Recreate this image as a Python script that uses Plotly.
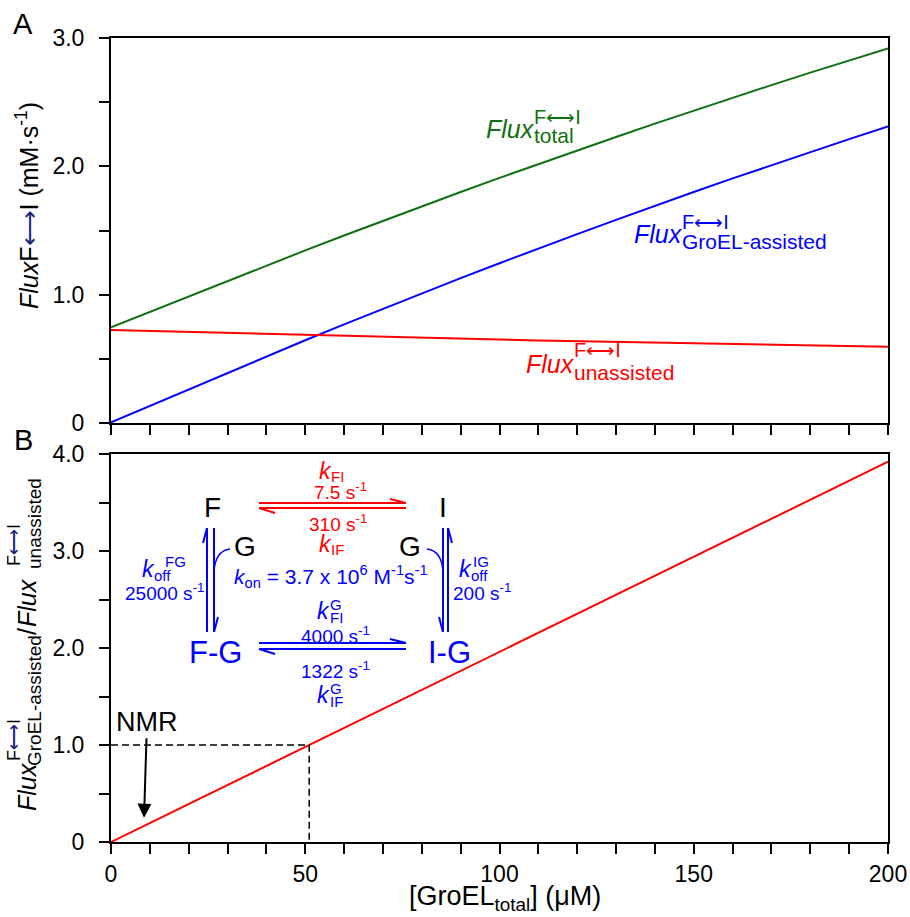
import plotly.graph_objects as go
import numpy as np

# ---------------- data ----------------
groel_uM = [0, 10, 20, 30, 40, 50, 60, 70, 80, 90, 100,
            110, 120, 130, 140, 150, 160, 170, 180, 190, 200]
flux_total = [0.745, 0.865, 0.986, 1.107, 1.228, 1.345, 1.461, 1.575, 1.689, 1.800, 1.910,
              2.018, 2.124, 2.229, 2.333, 2.434, 2.535, 2.633, 2.730, 2.826, 2.919]
flux_groel_assisted = [0.005, 0.133, 0.263, 0.392, 0.520, 0.645, 0.769, 0.890, 1.011, 1.129, 1.245,
                       1.360, 1.472, 1.583, 1.693, 1.800, 1.906, 2.009, 2.111, 2.212, 2.310]
flux_unassisted = [0.725, 0.717, 0.708, 0.700, 0.693, 0.685, 0.677, 0.670, 0.663, 0.656, 0.650,
                   0.643, 0.637, 0.631, 0.625, 0.619, 0.614, 0.609, 0.604, 0.599, 0.594]
flux_ratio = [0.0, 0.196, 0.392, 0.588, 0.784, 0.98, 1.176, 1.372, 1.568, 1.764, 1.96,
              2.156, 2.352, 2.548, 2.744, 2.94, 3.136, 3.332, 3.528, 3.724, 3.92]
nmr_ratio_level = 1.0

x_tick_vals = [0, 10, 20, 30, 40, 50, 60, 70, 80, 90, 100, 110, 120, 130, 140, 150, 160, 170, 180, 190, 200]
x_tick_text = ["0", "", "", "", "", "50", "", "", "", "", "100", "", "", "", "", "150", "", "", "", "", "200"]
yA_tick_vals = [0, 0.5, 1.0, 1.5, 2.0, 2.5, 3.0]
yA_tick_text = ["0", "", "1.0", "", "2.0", "", "3.0"]
yB_tick_vals = [0, 0.5, 1.0, 1.5, 2.0, 2.5, 3.0, 3.5, 4.0]
yB_tick_text = ["0", "", "1.0", "", "2.0", "", "3.0", "", "4.0"]

# ---------------- style ----------------
FONT = "Liberation Sans, Arial, Helvetica, sans-serif"
GREEN = "#0f700f"
BLUE = "#0000ff"
RED = "#ff0000"
NAVY = "#1a237e"

W, H = 910, 917
PL, PR, PT, PB = 111, 888, 38, 842
ML, MR, MT, MB = PL, W - PR, PT, H - PB


def px(x):
    return (x - PL) / (PR - PL)


def py(y):
    return (PB - y) / (PB - PT)


fig = go.Figure()

# panel A
fig.add_trace(go.Scatter(x=groel_uM, y=flux_total, mode="lines",
                         line=dict(color=GREEN, width=2), xaxis="x", yaxis="y"))
fig.add_trace(go.Scatter(x=groel_uM, y=flux_groel_assisted, mode="lines",
                         line=dict(color=BLUE, width=2), xaxis="x", yaxis="y"))
fig.add_trace(go.Scatter(x=groel_uM, y=flux_unassisted, mode="lines",
                         line=dict(color=RED, width=2), xaxis="x", yaxis="y"))

# panel B
fig.add_trace(go.Scatter(x=groel_uM, y=flux_ratio, mode="lines",
                         line=dict(color=RED, width=2), xaxis="x2", yaxis="y2"))
x_cross = float(np.interp(nmr_ratio_level, flux_ratio, groel_uM))
fig.add_trace(go.Scatter(x=[0, x_cross, x_cross], y=[nmr_ratio_level, nmr_ratio_level, 0],
                         mode="lines", line=dict(color="black", width=1.5, dash="7px,4px"),
                         xaxis="x2", yaxis="y2"))

axis_common = dict(showline=True, linecolor="black", linewidth=2, mirror=True,
                   ticks="outside", ticklen=10, tickwidth=2, tickcolor="black",
                   showgrid=False, zeroline=False,
                   tickfont=dict(family=FONT, size=23, color="black"))

yA_bottom = (PB - 423) / (PB - PT)
yB_top = (PB - 454) / (PB - PT)

fig.update_layout(
    width=W, height=H, margin=dict(l=ML, r=MR, t=MT, b=MB, autoexpand=False),
    paper_bgcolor="white", plot_bgcolor="white", showlegend=False,
    xaxis=dict(domain=[0, 1], range=[0, 200], anchor="y", tickmode="array",
               tickvals=x_tick_vals, ticktext=x_tick_text, showticklabels=False, **axis_common),
    yaxis=dict(domain=[yA_bottom, 1], range=[0, 3], anchor="x", tickmode="array",
               tickvals=yA_tick_vals, ticktext=yA_tick_text, ticklabelstandoff=10, **axis_common),
    xaxis2=dict(domain=[0, 1], range=[0, 200], anchor="y2", tickmode="array",
                tickvals=x_tick_vals, ticktext=x_tick_text, **axis_common),
    yaxis2=dict(domain=[0, yB_top], range=[0, 4], anchor="x2", tickmode="array",
                tickvals=yB_tick_vals, ticktext=yB_tick_text, ticklabelstandoff=10, **axis_common),
)


def txt(x, y, s, size, color="black", xanchor="center", yanchor="middle", angle=0):
    fig.add_annotation(x=px(x), y=py(y), xref="paper", yref="paper", text=s,
                       showarrow=False, textangle=angle, xanchor=xanchor, yanchor=yanchor,
                       font=dict(family=FONT, size=size, color=color), borderpad=0)


def seg(x0, y0, x1, y1, color, width=2):
    fig.add_shape(type="line", xref="paper", yref="paper",
                  x0=px(x0), y0=py(y0), x1=px(x1), y1=py(y1),
                  line=dict(color=color, width=width))


def curve(x0, y0, cx, cy, x1, y1, color, width=1.5):
    path = "M {} {} Q {} {} {} {}".format(px(x0), py(y0), px(cx), py(cy), px(x1), py(y1))
    fig.add_shape(type="path", xref="paper", yref="paper", path=path,
                  line=dict(color=color, width=width))


ARROW = "\u27f7"

# panel letters
txt(23, 24, "A", 29)
txt(23, 440, "B", 29)

# curve labels in panel A
def flux_label(xl, base, sup_base, sub_base, sub, color):
    txt(xl, base - 9, "<i>Flux</i>", 25, color, xanchor="left")
    txt(xl + 48, sup_base - 7, "F" + ARROW + "I", 20, color, xanchor="left")
    txt(xl + 48, sub_base - 7, sub, 21, color, xanchor="left")


flux_label(485, 138, 124, 143, "total", GREEN)
flux_label(633, 243, 229, 249, "GroEL-assisted", BLUE)
flux_label(525, 373, 357, 379, "unassisted", RED)

# axis titles
txt(27, 206, "<i>Flux</i>F<span style='color:%s'>%s</span>I (mM\u00b7s<sup>-1</sup>)" % (NAVY, ARROW),
    25, angle=-90)
# panel B y title (pieces rotated)
txt(27, 787, "<i>Flux</i>", 25, angle=-90)
txt(34, 701, "GroEL-assisted", 19, angle=-90)
txt(14, 740, "F<span style='color:%s'>%s</span>I" % (NAVY, ARROW), 18, angle=-90)
txt(27, 632, "/", 25, angle=-90)
txt(27, 603, "<i>Flux</i>", 25, angle=-90)
txt(34, 524, "unassisted", 19, angle=-90)
txt(14, 545, "F<span style='color:%s'>%s</span>I" % (NAVY, ARROW), 18, angle=-90)

txt(505, 898, "[GroEL<sub>total</sub>] (\u03bcM)", 27)

# NMR arrow
fig.add_annotation(x=8.5, y=0.25, xref="x2", yref="y2", text="NMR", showarrow=True,
                   ax=3, ay=-96, arrowhead=2, arrowsize=1.4, arrowwidth=2,
                   arrowcolor="black", font=dict(family=FONT, size=27, color="black"))

# ---------------- kinetic scheme ----------------
txt(212, 508, "F", 28)
txt(443, 508, "I", 28)
txt(245, 546, "G", 28)
txt(410, 546, "G", 28)
txt(215, 652, "F-G", 31, BLUE)
txt(449, 652, "I-G", 31, BLUE)

# red equilibrium arrows F <-> I
seg(259, 503, 406, 503, RED)
seg(406, 503, 390, 499, RED)
seg(259, 508, 406, 508, RED)
seg(259, 508, 275, 513, RED)
# blue equilibrium arrows F-G <-> I-G
seg(259, 643, 406, 643, BLUE)
seg(406, 643, 390, 639, BLUE)
seg(259, 649, 406, 649, BLUE)
seg(259, 649, 275, 654, BLUE)
# left vertical pair
seg(207, 528, 207, 632, BLUE)
seg(207, 528, 203, 543, BLUE)
seg(214, 528, 214, 632, BLUE)
seg(214, 632, 218, 617, BLUE)
# right vertical pair
seg(443, 528, 443, 632, BLUE)
seg(443, 632, 439, 617, BLUE)
seg(448, 528, 448, 632, BLUE)
seg(448, 528, 452, 543, BLUE)
# G binding curves
curve(230, 549, 215, 551, 214, 572, BLUE)
curve(427, 549, 442, 551, 443, 572, BLUE)

# red rate labels
txt(325, 471, "<i>k</i>", 23, RED)
txt(330, 476, "FI", 15, RED, xanchor="left")
txt(340, 491, "7.5 s<sup>-1</sup>", 19, RED)
txt(338, 523, "310 s<sup>-1</sup>", 19, RED)
txt(325, 544, "<i>k</i>", 23, RED)
txt(330, 549, "IF", 15, RED, xanchor="left")

# blue rate labels
txt(148, 569, "<i>k</i>", 23, BLUE)
txt(164, 561, "FG", 15, BLUE, xanchor="left")
txt(153, 575, "off", 15, BLUE, xanchor="left")
txt(164, 592, "25000 s<sup>-1</sup>", 19, BLUE)

txt(465, 569, "<i>k</i>", 23, BLUE)
txt(472, 561, "IG", 15, BLUE, xanchor="left")
txt(470, 575, "off", 15, BLUE, xanchor="left")
txt(482, 592, "200 s<sup>-1</sup>", 19, BLUE)

txt(331, 576, "<i>k</i><sub>on</sub> = 3.7 x 10<sup>6</sup> M<sup>-1</sup>s<sup>-1</sup>", 21, BLUE)

txt(323, 611, "<i>k</i>", 23, BLUE)
txt(329, 604, "G", 15, BLUE, xanchor="left")
txt(329, 617, "FI", 15, BLUE, xanchor="left")
txt(335, 635, "4000 s<sup>-1</sup>", 19, BLUE)
txt(335, 670, "1322 s<sup>-1</sup>", 19, BLUE)
txt(323, 695, "<i>k</i>", 23, BLUE)
txt(329, 688, "G", 15, BLUE, xanchor="left")
txt(329, 701, "IF", 15, BLUE, xanchor="left")

# the page body otherwise keeps its default 8px margin
fig.write_html("out.html", config={"displayModeBar": False},
               post_script="document.body.style.margin='0px';")
